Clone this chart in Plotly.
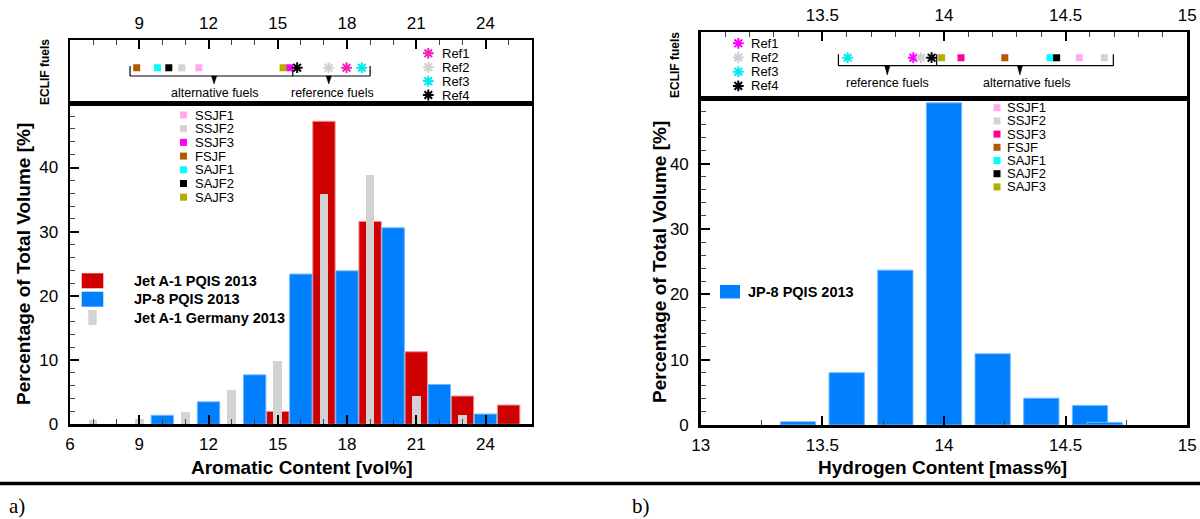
import plotly.graph_objects as go

W, H = 1200, 519

# ---------------- data ----------------
series_names = ["Jet A-1 PQIS 2013", "JP-8 PQIS 2013", "Jet A-1 Germany 2013"]

aro_red_x = [15, 17, 19, 21, 23, 25]
aro_red_y = [2.0, 47.2, 31.6, 11.3, 4.4, 3.0]
aro_blue_x = [10, 12, 14, 16, 18, 20, 22, 24]
aro_blue_y = [1.4, 3.5, 7.7, 23.4, 23.9, 30.6, 6.2, 1.6]
aro_grey_x = [7, 9, 11, 13, 15, 17, 19, 21, 23]
aro_grey_y = [0.7, 0.8, 1.9, 5.4, 9.9, 35.9, 38.9, 4.4, 1.5]

hyd_x = [13.4, 13.6, 13.8, 14.0, 14.2, 14.4, 14.6, 14.66]
hyd_y = [0.5, 8.0, 23.7, 49.3, 10.9, 4.1, 3.0, 0.4]

fuel_names = ["SSJF1", "SSJF2", "SSJF3", "FSJF", "SAJF1", "SAJF2", "SAJF3"]
fuel_aro = [11.58, 10.84, 15.51, 8.89, 9.79, 10.28, 15.23]
fuel_hyd = [14.556, 14.659, 14.07, 14.25, 14.436, 14.463, 13.99]

ref_names = ["Ref1", "Ref2", "Ref3", "Ref4"]
ref_aro = [17.98, 17.2, 18.64, 15.84]
ref_hyd = [13.874, 13.905, 13.604, 13.949]

left_ticks_top = [9, 12, 15, 18, 21, 24]
right_ticks_top = [13.5, 14, 14.5, 15]
y_ticks = [0, 10, 20, 30, 40]

# ---------------- styles ----------------
RED, BLUE, GREY = "#d10000", "#0080ff", "#d3d3d3"
fuel_col_L = ["#ffaaf0", "#d3d3d3", "#ff00ff", "#b35900", "#00ffff", "#000000", "#b3ad00"]
fuel_col_R = ["#ffaaf0", "#d3d3d3", "#ff0099", "#b35900", "#00ffff", "#000000", "#b3ad00"]
ref_col_L = ["#ee22bb", "#d0d0d0", "#00e8f0", "#000000"]
ref_col_R = ["#ff00ff", "#d0d0d0", "#00e8f0", "#000000"]
FONT = "Liberation Sans, Arial, sans-serif"

# pixel geometry of panels
L = dict(x0=70, x1=531.7, top=103.3, bot=424.3, stop=40.0, xr=[6, 26])
R = dict(x0=700.7, x1=1187.3, top=98.3, bot=425.0, stop=32.3, xr=[13, 15])


def px(x):
    return x / W


def py(y):
    return 1 - y / H


def x_of(P, xpix):
    return P["xr"][0] + (xpix - P["x0"]) / (P["x1"] - P["x0"]) * (P["xr"][1] - P["xr"][0])


def sy_of(P, ypix):
    return (P["top"] - ypix) / (P["top"] - P["stop"])


fig = go.Figure()

# ---------------- bars ----------------
fig.add_trace(go.Bar(x=aro_red_x, y=aro_red_y, width=0.97, marker=dict(color=RED, line=dict(color="#f09090", width=1)),
                     xaxis="x", yaxis="y", name=series_names[0]))
fig.add_trace(go.Bar(x=aro_blue_x, y=aro_blue_y, width=0.97, marker=dict(color=BLUE, line=dict(color="#70b8ff", width=1)),
                     xaxis="x", yaxis="y", name=series_names[1]))
fig.add_trace(go.Bar(x=aro_grey_x, y=aro_grey_y, width=0.37, marker=dict(color=GREY, line=dict(width=0)),
                     xaxis="x", yaxis="y", name=series_names[2]))
fig.add_trace(go.Bar(x=hyd_x, y=hyd_y, width=0.145, marker=dict(color=BLUE, line=dict(color="#70b8ff", width=1)),
                     xaxis="x3", yaxis="y3", name=series_names[1]))

# ---------------- strip markers ----------------
ROW_L = sy_of(L, 67.7)
ROW_R = sy_of(R, 57.7)


def star(cols):
    return dict(symbol="asterisk-open", size=9, color=cols, line=dict(color=cols, width=2))


fig.add_trace(go.Scatter(x=fuel_aro, y=[ROW_L] * len(fuel_aro), mode="markers", xaxis="x2", yaxis="y2",
                         marker=dict(symbol="square", size=7, color=fuel_col_L, line=dict(width=0))))
fig.add_trace(go.Scatter(x=ref_aro, y=[ROW_L] * len(ref_aro), mode="markers", xaxis="x2", yaxis="y2",
                         marker=star(ref_col_L)))
fig.add_trace(go.Scatter(x=fuel_hyd, y=[ROW_R] * len(fuel_hyd), mode="markers", xaxis="x4", yaxis="y4",
                         marker=dict(symbol="square", size=7, color=fuel_col_R, line=dict(width=0))))
fig.add_trace(go.Scatter(x=ref_hyd, y=[ROW_R] * len(ref_hyd), mode="markers", xaxis="x4", yaxis="y4",
                         marker=star(ref_col_R)))

# reference legends (stars) inside strips
refL_y = [sy_of(L, 53.3 + 13.9 * i) for i in range(len(ref_names))]
refR_y = [sy_of(R, 43.3 + 14.2 * i) for i in range(len(ref_names))]
fig.add_trace(go.Scatter(x=[x_of(L, 428.3)] * 4, y=refL_y, mode="markers", xaxis="x2", yaxis="y2",
                         marker=star(ref_col_L)))
fig.add_trace(go.Scatter(x=[x_of(R, 738.3)] * 4, y=refR_y, mode="markers", xaxis="x4", yaxis="y4",
                         marker=star(ref_col_R)))

annotations = []
shapes = []

for i, n in enumerate(ref_names):
    annotations.append(dict(x=x_of(L, 440), y=refL_y[i], xref="x2", yref="y2", text=n, showarrow=False,
                            xanchor="left", yanchor="middle", font=dict(size=13, family=FONT, color="black")))
    annotations.append(dict(x=x_of(R, 749), y=refR_y[i], xref="x4", yref="y4", text=n, showarrow=False,
                            xanchor="left", yanchor="middle", font=dict(size=13, family=FONT, color="black")))


# ---------------- brackets ----------------
def bracket(P, xa, ya, segs, junction, jtop, pointers, texts, ybar_pix, ytop_pix, ytip_pix, ytxt_pix):
    yb = sy_of(P, ybar_pix)
    yt = sy_of(P, ytop_pix)
    ytip = sy_of(P, ytip_pix)
    ytx = sy_of(P, ytxt_pix)
    lw = dict(color="black", width=1.2)
    shapes.append(dict(type="line", xref=xa, yref=ya, x0=segs[0], x1=segs[1], y0=yb, y1=yb, line=lw))
    shapes.append(dict(type="line", xref=xa, yref=ya, x0=segs[0], x1=segs[0], y0=yb, y1=yt, line=lw))
    shapes.append(dict(type="line", xref=xa, yref=ya, x0=segs[1], x1=segs[1], y0=yb, y1=yt, line=lw))
    shapes.append(dict(type="line", xref=xa, yref=ya, x0=junction, x1=junction, y0=yb, y1=sy_of(P, jtop), line=lw))
    hw = 2.6 / (P["x1"] - P["x0"]) * (P["xr"][1] - P["xr"][0])
    for xp in pointers:
        shapes.append(dict(type="path", xref=xa, yref=ya,
                           path=f"M {xp - hw},{yb} L {xp + hw},{yb} L {xp},{ytip} Z",
                           fillcolor="black", line=dict(color="black", width=0.5)))
    for (xt, t) in texts:
        annotations.append(dict(x=xt, y=ytx, xref=xa, yref=ya, text=t, showarrow=False, xanchor="center",
                                yanchor="middle", font=dict(size=12.5, family=FONT, color="black")))


bracket(L, "x2", "y2", (8.6, 19.0), 15.65, 70.5, (12.24, 17.21),
        [(12.29, "alternative fuels"), (17.36, "reference fuels")], 76.0, 66.0, 84.0, 92.7)
bracket(R, "x4", "y4", (13.566, 14.696), 13.97, 54.3, (13.767, 14.312),
        [(13.766, "reference fuels"), (14.34, "alternative fuels")], 65.7, 54.3, 75.0, 83.3)


# ---------------- ECLIF fuel legends in main panels ----------------
def fuel_legend(xc, xt, y0, dy, cols):
    for i, n in enumerate(fuel_names):
        yc = y0 + dy * i
        shapes.append(dict(type="rect", xref="paper", yref="paper", x0=px(xc - 3.5), x1=px(xc + 3.5),
                           y0=py(yc + 3.5), y1=py(yc - 3.5), fillcolor=cols[i], line=dict(width=0)))
        annotations.append(dict(x=px(xt), y=py(yc), xref="paper", yref="paper", text=n, showarrow=False,
                                xanchor="left", yanchor="middle", font=dict(size=13, family=FONT, color="black")))


fuel_legend(183.5, 192.5, 115.0, 13.7, fuel_col_L)
fuel_legend(997.0, 1005.0, 107.7, 13.2, fuel_col_R)


# ---------------- series legends ----------------
def series_key(x0, x1, yc, h, col, text, xt):
    shapes.append(dict(type="rect", xref="paper", yref="paper", x0=px(x0), x1=px(x1),
                       y0=py(yc + h / 2), y1=py(yc - h / 2), fillcolor=col, line=dict(width=0)))
    annotations.append(dict(x=px(xt), y=py(yc), xref="paper", yref="paper", text=f"<b>{text}</b>",
                            showarrow=False, xanchor="left", yanchor="middle",
                            font=dict(size=14.5, family=FONT, color="black")))


series_key(81.7, 103.3, 280.8, 15, RED, series_names[0], 132)
series_key(81.7, 103.3, 299.2, 15, BLUE, series_names[1], 132)
series_key(88.3, 96.7, 317.5, 15, GREY, series_names[2], 132)
series_key(720.0, 740.0, 291.7, 13.5, BLUE, series_names[1], 746)


# ---------------- titles / labels ----------------
def ann(x, y, text, size, angle=0, family=FONT, xanchor="center"):
    annotations.append(dict(x=px(x), y=py(y), xref="paper", yref="paper", text=text, showarrow=False,
                            textangle=angle, xanchor=xanchor, yanchor="middle",
                            font=dict(size=size, family=family, color="black")))


ann(23, 264, "<b>Percentage of Total Volume [%]</b>", 19, -90)
ann(659, 262, "<b>Percentage of Total Volume [%]</b>", 19, -90)
ann(45, 72, "<b>ECLIF fuels</b>", 12, -90)
ann(675, 65, "<b>ECLIF fuels</b>", 12, -90)
ann(302, 467, "<b>Aromatic Content [vol%]</b>", 19)
ann(942, 467, "<b>Hydrogen Content [mass%]</b>", 19)
ann(7, 506, "a)", 21, 0, "Liberation Serif, Times New Roman, serif", "left")
ann(630, 506, "b)", 21, 0, "Liberation Serif, Times New Roman, serif", "left")

shapes.append(dict(type="line", xref="paper", yref="paper", x0=0, x1=1, y0=py(483.5), y1=py(483.5),
                   line=dict(color="black", width=3.5)))

# ---------------- axes ----------------
common = dict(showline=True, linewidth=2.5, linecolor="black", mirror=True, showgrid=False, zeroline=False,
              ticks="inside", ticklen=9, tickwidth=2, tickcolor="black", automargin=False,
              tickfont=dict(size=17, family=FONT, color="black"))
strip_y = dict(range=[0, 1], showticklabels=False, showline=True, linewidth=2.5, linecolor="black", mirror=True,
               showgrid=False, zeroline=False, ticks="", automargin=False)


def minor(d, t0=0):
    return dict(ticks="inside", tickmode="linear", tick0=t0, dtick=d, ticklen=5, tickwidth=1, tickcolor="#444")


fig.update_layout(
    width=W, height=H, autosize=False, margin=dict(l=0, r=0, t=0, b=0, pad=0, autoexpand=False),
    paper_bgcolor="white", plot_bgcolor="white", showlegend=False, barmode="overlay", bargap=0,
    font=dict(family=FONT, color="black"), hovermode=False,
    xaxis=dict(domain=[px(L["x0"]), px(L["x1"])], range=L["xr"], anchor="y", tickmode="linear", tick0=0, dtick=3,
               minor=minor(1), ticklabelstandoff=3, **common),
    yaxis=dict(domain=[py(L["bot"]), py(L["top"])], range=[0, 50], anchor="x", tickmode="array", tickvals=y_ticks,
               minor=minor(2), ticklabelstandoff=6, **common),
    xaxis2=dict(domain=[px(L["x0"]), px(L["x1"])], range=L["xr"], anchor="y2", side="top", tickmode="array",
                tickvals=left_ticks_top, minor=minor(1), ticklabelstandoff=2, **common),
    yaxis2=dict(domain=[py(L["top"]), py(L["stop"])], anchor="x2", **strip_y),
    xaxis3=dict(domain=[px(R["x0"]), px(R["x1"])], range=R["xr"], anchor="y3", tickmode="linear", tick0=13, dtick=0.5,
                minor=minor(0.25, 13), ticklabelstandoff=3, **common),
    yaxis3=dict(domain=[py(R["bot"]), py(R["top"])], range=[0, 50], anchor="x3", tickmode="array", tickvals=y_ticks,
                minor=minor(2), ticklabelstandoff=6, **common),
    xaxis4=dict(domain=[px(R["x0"]), px(R["x1"])], range=R["xr"], anchor="y4", side="top", tickmode="array",
                tickvals=right_ticks_top, minor=minor(0.1, 13), ticklabelstandoff=2, **common),
    yaxis4=dict(domain=[py(R["top"]), py(R["stop"])], anchor="x4", **strip_y),
    shapes=shapes,
    annotations=annotations,
)

fig.write_html("out.html", config={"displayModeBar": False, "staticPlot": True},
               post_script="document.body.style.margin='0';document.body.style.overflow='hidden';")
